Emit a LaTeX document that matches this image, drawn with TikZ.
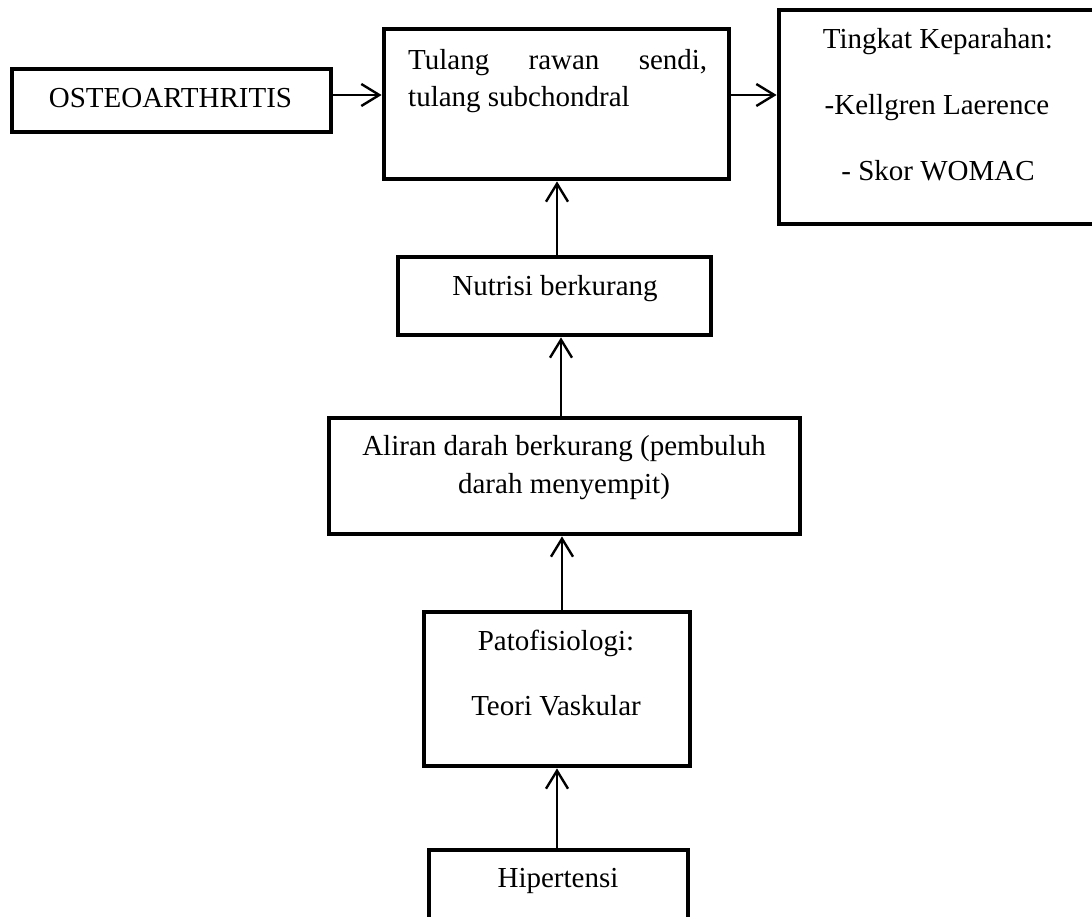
\documentclass[tikz,border=0pt]{standalone}
\usepackage{fontspec}
\setmainfont{Liberation Serif}
\usetikzlibrary{arrows.meta,fit}
\begin{document}
\begin{tikzpicture}[x=1pt,y=-1pt,
  box/.style={draw, line width=4.8pt, inner sep=0pt},
  txt/.style={font=\fontsize{29}{35}\selectfont, inner sep=0pt, anchor=base},
  arr/.style={line width=2.4pt, -{Straight Barb[length=18pt,width=22pt,line width=2.4pt]}}]
\clip (0,0) rectangle (1092,917);
\fill[white] (0,0) rectangle (1092,917);

% boxes
\node[box, fit={(12,69) (331,132)}] (osteo) {};
\node[box, fit={(384,29) (729,179)}] (tulang) {};
\node[box, fit={(779,10) (1097,224)}] (tingkat) {};
\node[box, fit={(398,257) (711,335)}] (nutrisi) {};
\node[box, fit={(329,418) (800,534)}] (aliran) {};
\node[box, fit={(424,612) (690,766)}] (pato) {};
\node[box, fit={(429,850) (688,950)}] (hiper) {};

% labels
\node[txt] (tOsteo) at (170.5,108) {OSTEOARTHRITIS};
\node[txt, anchor=base west] (tTul1) at (408,70) {\makebox[299pt][s]{Tulang rawan sendi,}};
\node[txt, anchor=base west] (tTul2) at (408,107) {tulang subchondral};
\node[txt] (tTing1) at (938,49) {Tingkat Keparahan:};
\node[txt] (tTing2) at (937,115) {-Kellgren Laerence};
\node[txt] (tTing3) at (938,181) {- Skor WOMAC};
\node[txt] (tNut) at (555,295) {Nutrisi berkurang};
\node[txt] (tAli1) at (564,455) {Aliran darah berkurang (pembuluh};
\node[txt] (tAli2) at (564,493) {darah menyempit)};
\node[txt] (tPat1) at (556,650) {Patofisiologi:};
\node[txt] (tPat2) at (556,715) {Teori Vaskular};
\node[txt] (tHip) at (558,887) {Hipertensi};

% connector positions
\coordinate (yTop) at (0,95);
\coordinate (xA) at (557,0);
\coordinate (xB) at (561,0);
\coordinate (xC) at (562,0);
\coordinate (xD) at (557,0);

% connectors
\draw[arr] (osteo.east |- yTop) -- (tulang.west |- yTop);
\draw[arr] (tulang.east |- yTop) -- (tingkat.west |- yTop);
\draw[arr] (nutrisi.north -| xA) -- (tulang.south -| xA);
\draw[arr] (aliran.north -| xB) -- (nutrisi.south -| xB);
\draw[arr] (pato.north -| xC) -- (aliran.south -| xC);
\draw[arr] (hiper.north -| xD) -- (pato.south -| xD);
\end{tikzpicture}
\end{document}
